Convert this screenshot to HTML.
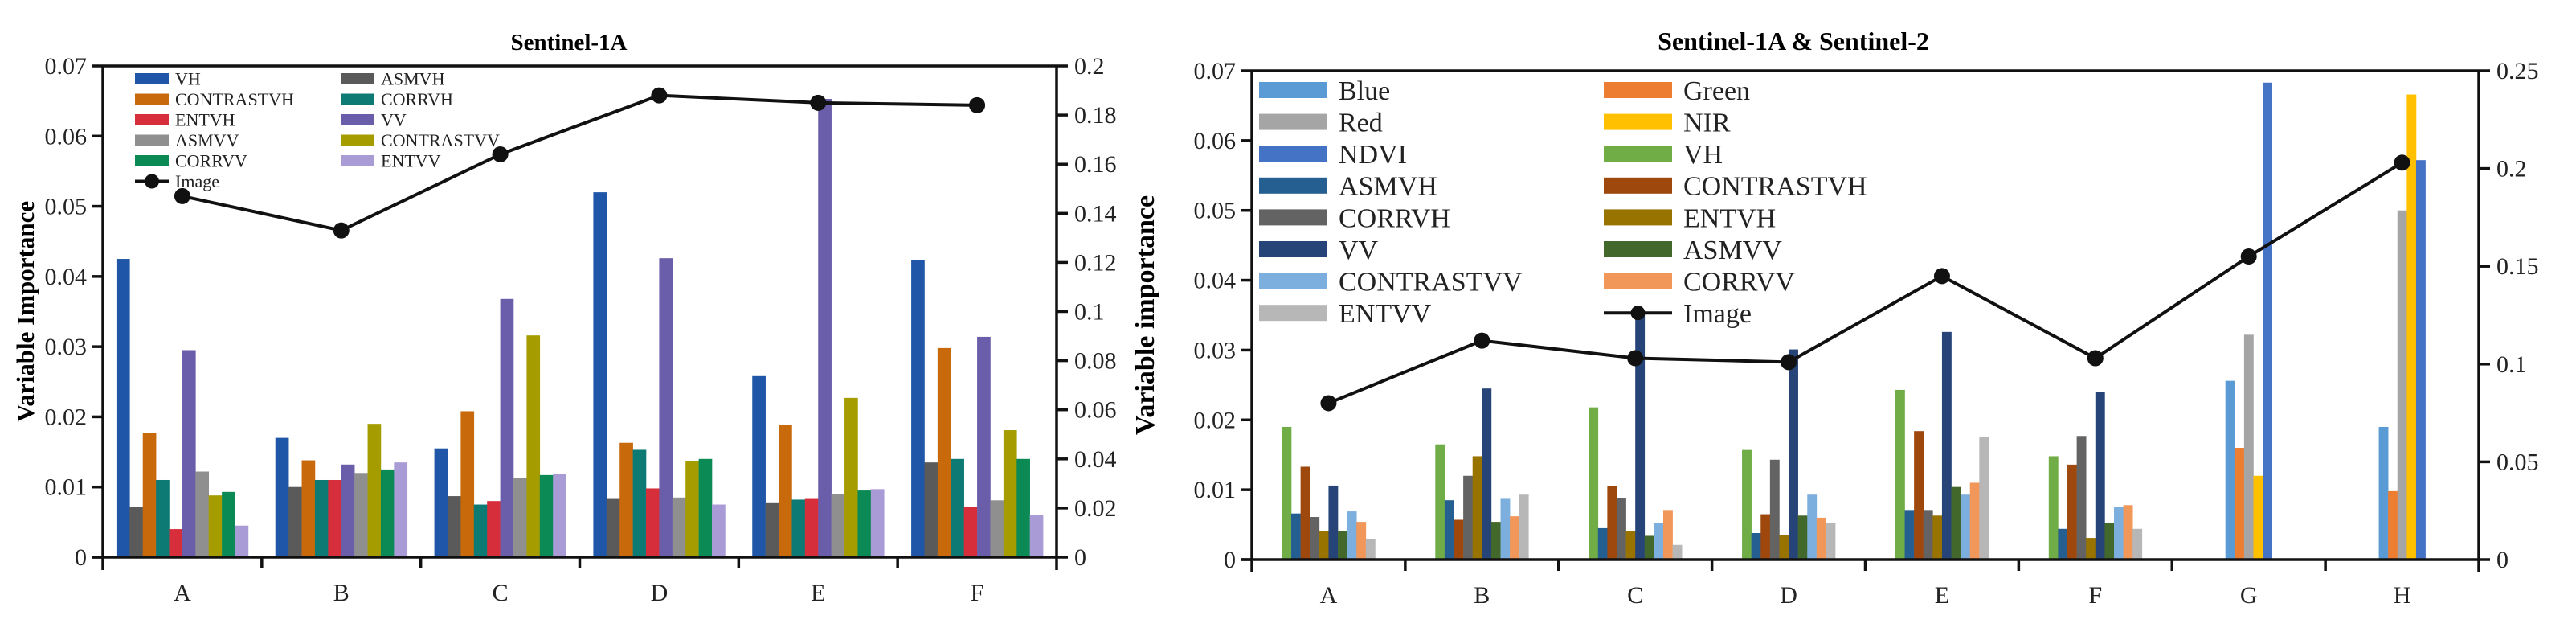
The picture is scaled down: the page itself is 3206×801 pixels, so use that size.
<!DOCTYPE html>
<html><head><meta charset="utf-8"><style>
html,body{margin:0;padding:0;background:#fff;}
svg{display:block;font-family:"Liberation Serif",serif;}
</style></head><body>
<svg id="chart" width="3206" height="801" viewBox="0 0 3206 801" xmlns="http://www.w3.org/2000/svg"></svg>
<script>
// ---------- Left chart data ----------
const leftCats = ["A","B","C","D","E","F"];
const leftSeries = ["VH","ASMVH","CONTRASTVH","CORRVH","ENTVH","VV","ASMVV","CONTRASTVV","CORRVV","ENTVV"];
const leftColors = ["#1f56a8","#5a5a5a","#c8690c","#0e7a74","#d62e3a","#6a5eaa","#8f8f8f","#a59d00","#0c8a55","#a99bd6"];
const leftVH = [0.0425,0.017,0.0155,0.052,0.0258,0.0423];
const leftASMVH = [0.0072,0.010,0.0087,0.0083,0.0077,0.0135];
const leftCONTRASTVH = [0.0177,0.0138,0.0208,0.0163,0.0188,0.0298];
const leftCORRVH = [0.011,0.011,0.0075,0.0153,0.0082,0.014];
const leftENTVH = [0.004,0.011,0.008,0.0098,0.0083,0.0072];
const leftVV = [0.0295,0.0132,0.0368,0.0426,0.0653,0.0314];
const leftASMVV = [0.0122,0.012,0.0113,0.0085,0.009,0.0081];
const leftCONTRASTVV = [0.0088,0.019,0.0316,0.0137,0.0227,0.0181];
const leftCORRVV = [0.0093,0.0125,0.0117,0.014,0.0095,0.014];
const leftENTVV = [0.0045,0.0135,0.0118,0.0075,0.0097,0.006];
const leftImage = [0.147,0.133,0.164,0.188,0.185,0.184];
const leftYTicks = ["0","0.01","0.02","0.03","0.04","0.05","0.06","0.07"];
const leftY2Ticks = ["0","0.02","0.04","0.06","0.08","0.1","0.12","0.14","0.16","0.18","0.2"];
const leftLegend = ["VH","CONTRASTVH","ENTVH","ASMVV","CORRVV","ASMVH","CORRVH","VV","CONTRASTVV","ENTVV"];

// ---------- Right chart data ----------
const rightCats = ["A","B","C","D","E","F","G","H"];
const rightSeries = ["Blue","Green","Red","NIR","NDVI","VH","ASMVH","CONTRASTVH","CORRVH","ENTVH","VV","ASMVV","CONTRASTVV","CORRVV","ENTVV"];
const rightColors = ["#5b9bd5","#ed7d31","#a5a5a5","#ffc000","#4472c4","#70ad47","#255e91","#9e480e","#636363","#997300","#264478","#43682b","#7cafdd","#f1975a","#b7b7b7"];
const rBlue = [null,null,null,null,null,null,0.0256,0.019];
const rGreen = [null,null,null,null,null,null,0.016,0.0098];
const rRed = [null,null,null,null,null,null,0.0322,0.05];
const rNIR = [null,null,null,null,null,null,0.012,0.0666];
const rNDVI = [null,null,null,null,null,null,0.0683,0.0572];
const rVH = [0.019,0.0165,0.0218,0.0157,0.0243,0.0148,null,null];
const rASMVH = [0.0066,0.0085,0.0045,0.0038,0.0071,0.0044,null,null];
const rCONTRASTVH = [0.0133,0.0057,0.0105,0.0065,0.0184,0.0136,null,null];
const rCORRVH = [0.0061,0.012,0.0088,0.0143,0.0071,0.0177,null,null];
const rENTVH = [0.0041,0.0148,0.0041,0.0035,0.0063,0.0031,null,null];
const rVV = [0.0106,0.0245,0.035,0.0301,0.0326,0.024,null,null];
const rASMVV = [0.0041,0.0054,0.0034,0.0063,0.0104,0.0053,null,null];
const rCONTRASTVV = [0.0069,0.0087,0.0052,0.0093,0.0093,0.0075,null,null];
const rCORRVV = [0.0054,0.0062,0.0071,0.006,0.011,0.0078,null,null];
const rENTVV = [0.0029,0.0093,0.0021,0.0052,0.0176,0.0044,null,null];
const rightImage = [0.08,0.112,0.103,0.101,0.145,0.103,0.155,0.203];
const rightYTicks = ["0","0.01","0.02","0.03","0.04","0.05","0.06","0.07"];
const rightY2Ticks = ["0","0.05","0.1","0.15","0.2","0.25"];
const rightLegend = ["Blue","Red","NDVI","ASMVH","CORRVH","VV","CONTRASTVV","ENTVV","Green","NIR","VH","CONTRASTVH","ENTVH","ASMVV","CORRVV"];

const NS="http://www.w3.org/2000/svg";
const svg=document.getElementById("chart");
function mk(tag,attrs,parent){const e=document.createElementNS(NS,tag);for(const k in attrs)e.setAttribute(k,attrs[k]);(parent||svg).appendChild(e);return e;}
function txt(s,attrs,parent){const e=mk("text",attrs,parent);e.textContent=s;return e;}

function drawChart(cfg){
  const g=mk("g",{});
  
  
  const {x0,x1,yTop,yZero,ymax,y2max}=cfg;
  const yS=v=>yZero-(v/ymax)*(yZero-yTop);
  const y2S=v=>yZero-(v/y2max)*(yZero-yTop);
  const band=(x1-x0)/cfg.cats.length;
  const xC=i=>x0+band*(i+0.5);
  const t=txt(cfg.title,{x:cfg.titleX,y:62,"text-anchor":"middle","font-size":cfg.titleFs,"font-weight":"bold"},g);
  
  
  cfg.cats.forEach((c,i)=>{
    const present=cfg.series.map((s,k)=>k).filter(k=>cfg.values[k][i]!=null);
    const n=present.length;
    const start=xC(i)-n*cfg.barW/2;
    present.forEach((k,j)=>{
      const v=cfg.values[k][i];
      const r=mk("rect",{x:start+j*cfg.barW,y:yS(v),width:cfg.barW+0.3,height:yZero-yS(v),fill:cfg.colors[k]},g);
      
      
    });
  });
  const ax=mk("g",{stroke:"#111","stroke-width":3.5,fill:"none"},g);
  
  
  mk("line",{x1:x0,y1:yTop,x2:x0,y2:yZero+16},ax);
  mk("line",{x1:x0,y1:yTop,x2:x1,y2:yTop},ax);
  mk("line",{x1:x0-14,y1:yZero,x2:x1,y2:yZero},ax);
  mk("line",{x1:x1,y1:yTop,x2:x1,y2:yZero+16},ax);
  cfg.cats.forEach((c,i)=>{ if(i>0) mk("line",{x1:x0+band*i,y1:yZero,x2:x0+band*i,y2:yZero+14},ax);
    const l=txt(c,{x:xC(i),y:yZero+54,"text-anchor":"middle","font-size":30,fill:"#222",stroke:"none"},g);
    
    
  });
  cfg.yTicks.forEach((s,i)=>{
    const v=ymax*i/(cfg.yTicks.length-1);
    mk("line",{x1:x0-14,y1:yS(v),x2:x0,y2:yS(v)},ax);
    const l=txt(s,{x:x0-20,y:yS(v)+10,"text-anchor":"end","font-size":30,fill:"#222",stroke:"none"},g);
    
    
  });
  cfg.y2Ticks.forEach((s,i)=>{
    const v=y2max*i/(cfg.y2Ticks.length-1);
    mk("line",{x1:x1,y1:y2S(v),x2:x1+14,y2:y2S(v)},ax);
    const l=txt(s,{x:x1+22,y:y2S(v)+10,"text-anchor":"start","font-size":30,fill:"#222",stroke:"none"},g);
    
    
  });
  const yl=txt(cfg.ylabel,{x:0,y:0,"text-anchor":"middle","font-size":cfg.ylFs,"font-weight":"bold",transform:`translate(${cfg.ylabelX},${(yTop+yZero)/2}) rotate(-90)`},g);
  
  
  const pts=cfg.image.map((v,i)=>xC(i)+","+y2S(v)).join(" ");
  const pl=mk("polyline",{points:pts,fill:"none",stroke:"#111","stroke-width":4},g);
  
  
  cfg.image.forEach((v,i)=>{
    const c=mk("circle",{cx:xC(i),cy:y2S(v),r:10,fill:"#111"},g);
    
    
  });
  const lg=mk("g",{},g);
  
  
  cfg.legend.forEach((name,j)=>{
    const col=j<cfg.perCol?0:1, row=j%cfg.perCol;
    const lx=cfg.legX[col], ly=cfg.legY0+row*cfg.legDY;
    const k=cfg.series.indexOf(name);
    const r=mk("rect",{x:lx,y:ly-cfg.swH/2,width:cfg.swW,height:cfg.swH,fill:cfg.colors[k]},lg);
    
    
    const tt=txt(name,{x:lx+cfg.swW+cfg.gap,y:ly+cfg.fs*0.35,"font-size":cfg.fs,fill:"#222"},lg);
    
    
  });
  const ix=cfg.legX[cfg.imgCol], iy=cfg.legY0+cfg.imgRow*cfg.legDY;
  mk("line",{x1:ix,y1:iy,x2:ix+cfg.swW,y2:iy,stroke:"#111","stroke-width":4},lg);
  mk("circle",{cx:ix+cfg.swW/2,cy:iy,r:9,fill:"#111"},lg);
  const it=txt("Image",{x:ix+cfg.swW+cfg.gap,y:iy+cfg.fs*0.35,"font-size":cfg.fs,fill:"#222"},lg);
  
  
}

drawChart({name:"chart-sentinel-1a",title:"Sentinel-1A",titleX:708,titleFs:29,x0:128,x1:1315,yTop:82,yZero:693,ymax:0.07,y2max:0.2,
  cats:leftCats,series:leftSeries,colors:leftColors,
  values:[leftVH,leftASMVH,leftCONTRASTVH,leftCORRVH,leftENTVH,leftVV,leftASMVV,leftCONTRASTVV,leftCORRVV,leftENTVV],
  barW:16.4,image:leftImage,yTicks:leftYTicks,y2Ticks:leftY2Ticks,ylabel:"Variable Importance",ylabelX:42,ylFs:31,
  legend:leftLegend,perCol:5,legX:[168,424],legY0:98,legDY:25.5,swW:42,swH:14,gap:8,fs:22,imgCol:0,imgRow:5});

drawChart({name:"chart-sentinel-1a-2",title:"Sentinel-1A & Sentinel-2",titleX:2232,titleFs:32,x0:1558,x1:3085,yTop:88,yZero:696,ymax:0.07,y2max:0.25,
  cats:rightCats,series:rightSeries,colors:rightColors,
  values:[rBlue,rGreen,rRed,rNIR,rNDVI,rVH,rASMVH,rCONTRASTVH,rCORRVH,rENTVH,rVV,rASMVV,rCONTRASTVV,rCORRVV,rENTVV],
  barW:11.6,image:rightImage,yTicks:rightYTicks,y2Ticks:rightY2Ticks,ylabel:"Variable importance",ylabelX:1436,ylFs:34,
  legend:rightLegend,perCol:8,legX:[1567,1996],legY0:112,legDY:39.6,swW:85,swH:20,gap:14,fs:34,imgCol:1,imgRow:7});
</script>
</body></html>
